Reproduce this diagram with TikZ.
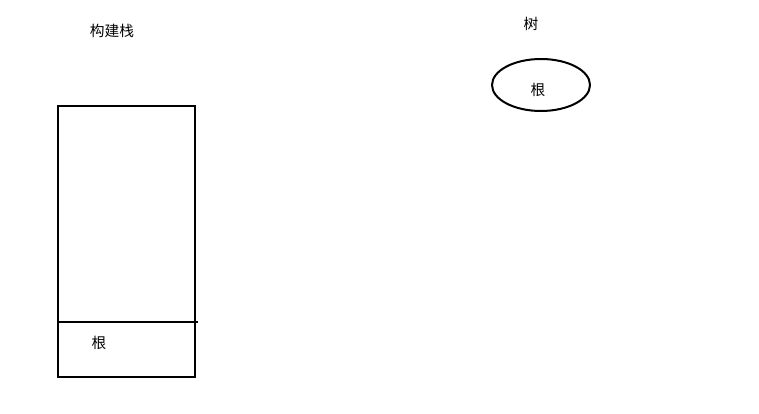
\documentclass[tikz,border=0pt]{standalone}
\usepackage{fontspec}
\newfontfamily\cjk{Noto Sans CJK SC}
\usetikzlibrary{shapes.geometric}
\begin{document}
\begin{tikzpicture}[x=1pt,y=-1pt,
  lbl/.style={font=\cjk\fontsize{14.7}{16}\selectfont, inner sep=0pt},
  boxline/.style={line width=2pt, black}]
\useasboundingbox (0,0) rectangle (759,414);
\fill[white] (0,0) rectangle (759,414);
% stack
\coordinate (sTL) at (58,106);
\coordinate (sBR) at (195,377);
\draw[boxline] (sTL) rectangle (sBR);
\coordinate (dL) at (58,322);
\coordinate (dR) at (198,322);
\draw[boxline] (dL) -- (dR);
\node[lbl] (stacktitle) at (112,31) {构建栈};
\node[lbl] (stackroot) at (99,343) {根};
% tree
\node[lbl] (treetitle) at (531,24) {树};
\node[draw, ellipse, line width=2pt, minimum width=98pt, minimum height=52pt, inner sep=0pt] (root) at (541,85) {};
\node[lbl] (rootlbl) at (538,90) {根};
\end{tikzpicture}
\end{document}
